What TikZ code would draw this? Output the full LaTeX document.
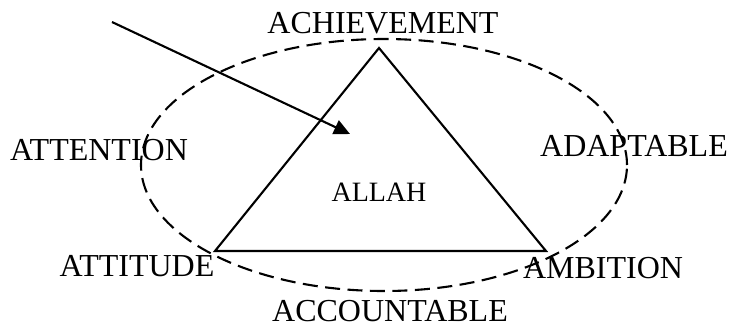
\documentclass[tikz,border=0pt]{standalone}
\usepackage{fontspec}
\setmainfont{Liberation Serif}
\usetikzlibrary{arrows.meta,shapes.geometric}
\begin{document}
\begin{tikzpicture}[x=1pt,y=-1pt,
  lbl/.style={inner sep=0pt,font=\fontsize{32}{38}\selectfont},
  small/.style={inner sep=0pt,font=\fontsize{28}{33}\selectfont},
  solidline/.style={line width=2.1pt,line join=miter},
  dashline/.style={line width=2.1pt,dash pattern=on 15pt off 7.5pt}]
\useasboundingbox (0,0) rectangle (732,327);
% ellipse
\node[draw,dashline,ellipse,minimum width=486pt,minimum height=252pt,inner sep=0pt] (ell) at (384,165) {};
% triangle
\coordinate (top) at (379,48);
\coordinate (bl) at (215,251);
\coordinate (br) at (546,251);
\draw[solidline] (top) -- (bl) -- (br) -- cycle;
% arrow
\coordinate (astart) at (112,22);
\coordinate (aend) at (350,134);
\draw[line width=2.1pt,-{Triangle[length=16pt,width=15pt]}] (astart) -- (aend);
% labels
\node[lbl] (ach) at (383,23) {ACHIEVEMENT};
\node[lbl] (att) at (99,150) {ATTENTION};
\node[lbl] (ada) at (634,146) {ADAPTABLE};
\node[small] (allah) at (379,192) {ALLAH};
\node[lbl] (atti) at (137,266) {ATTITUDE};
\node[lbl] (amb) at (603,268) {AMBITION};
\node[lbl] (acc) at (390,311) {ACCOUNTABLE};
\end{tikzpicture}
\end{document}
